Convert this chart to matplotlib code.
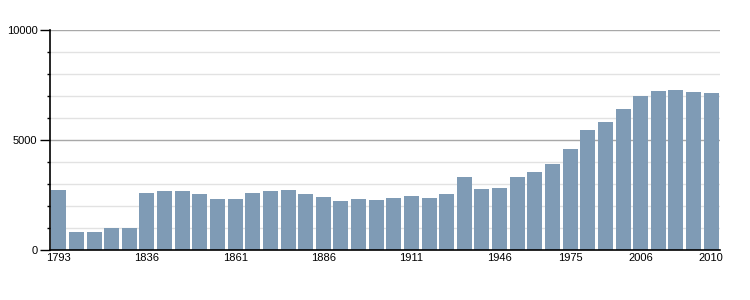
import numpy as np
import matplotlib.pyplot as plt
from matplotlib.ticker import MultipleLocator

years = [1793, 1800, 1806, 1821, 1831, 1836, 1841, 1846, 1851, 1856,
         1861, 1866, 1872, 1876, 1881, 1886, 1891, 1896, 1901, 1906,
         1911, 1921, 1926, 1931, 1936, 1946, 1954, 1962, 1968, 1975,
         1982, 1990, 1999, 2006, 2007, 2008, 2009, 2010]
population = [2730, 820, 820, 1000, 1000, 2590, 2680, 2680, 2545, 2320,
              2320, 2590, 2680, 2730, 2545, 2410, 2230, 2320, 2275, 2365,
              2455, 2365, 2545, 3320, 2775, 2820, 3320, 3545, 3910, 4590,
              5455, 5820, 6410, 7000, 7230, 7275, 7180, 7140]
labelled_years = [1793, 1836, 1861, 1886, 1911, 1946, 1975, 2006, 2010]

plt.rcParams['font.family'] = ['Liberation Sans', 'DejaVu Sans']

fig = plt.figure(figsize=(7.5, 3), dpi=100)
ax = fig.add_axes([50 / 750, 50 / 300, 670 / 750, 220 / 300])

x = np.arange(len(years))
ax.bar(x, population, width=0.85, color='#7f9bb5', zorder=3)

ax.set_xlim(-0.5, len(years) - 0.5)
ax.set_ylim(0, 10000)

# grid: light every 1000, darker at 5000 / 10000
for v in range(1000, 10001, 1000):
    col = '#a8a8a8' if v % 5000 == 0 else '#e2e2e2'
    ax.axhline(v, color=col, linewidth=1, zorder=1)

ax.yaxis.set_major_locator(MultipleLocator(5000))
ax.yaxis.set_minor_locator(MultipleLocator(1000))
ax.tick_params(axis='y', which='major', length=7, width=1, labelsize=8, pad=2)
ax.tick_params(axis='y', which='minor', length=2.5, width=1)

pos = [years.index(y) for y in labelled_years]
ax.set_xticks(pos)
ax.set_xticklabels([str(y) for y in labelled_years])
ax.tick_params(axis='x', length=0, labelsize=8, pad=2)

for s in ['top', 'right']:
    ax.spines[s].set_visible(False)
ax.spines['left'].set_linewidth(1.2)
ax.spines['bottom'].set_linewidth(1.2)
ax.spines['left'].set_zorder(4)
ax.spines['bottom'].set_zorder(4)

fig.savefig('out.png', dpi=100)
